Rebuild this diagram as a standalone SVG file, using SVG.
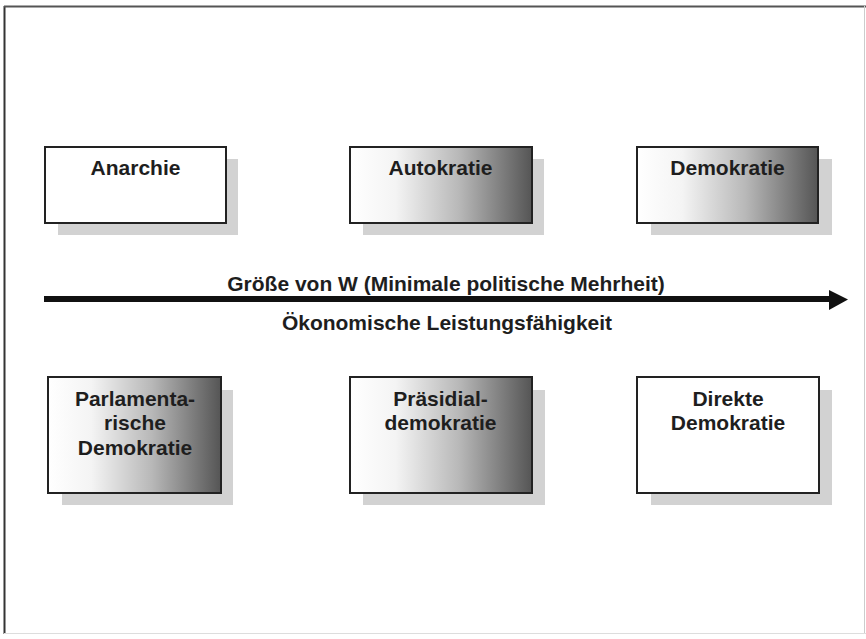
<svg xmlns="http://www.w3.org/2000/svg" width="866" height="639" viewBox="0 0 866 639">
<defs>
<linearGradient id="g" x1="0" y1="0" x2="1" y2="0">
<stop offset="0" stop-color="#ffffff"/>
<stop offset="0.25" stop-color="#f4f4f4"/>
<stop offset="0.6" stop-color="#b8b8b8"/>
<stop offset="1" stop-color="#555555"/>
</linearGradient>
<style>
.box{stroke:#222;stroke-width:2}
.w{fill:#fff}
.gr{fill:url(#g)}
.sh{fill:#d2d2d2}
.t{font-family:"Liberation Sans",Arial,sans-serif;font-weight:bold;font-size:21px;fill:#1e1e1e;text-anchor:middle}
.a{font-family:"Liberation Sans",Arial,sans-serif;font-weight:bold;font-size:21px;fill:#1e1e1e;text-anchor:middle}
</style>
</defs>
<rect x="0" y="0" width="866" height="639" fill="#fff"/>
<line x1="4.5" y1="6" x2="4.5" y2="634" stroke="#333" stroke-width="2"/>
<line x1="4" y1="6.5" x2="866" y2="6.5" stroke="#555" stroke-width="2"/>
<line x1="864.5" y1="6" x2="864.5" y2="634" stroke="#ccc" stroke-width="1"/>
<line x1="4" y1="633.5" x2="866" y2="633.5" stroke="#ddd" stroke-width="1"/>

<g id="anarchie">
<rect class="sh" x="58" y="159" width="180" height="76"/>
<rect class="box w" x="45" y="147" width="181" height="76"/>
<text class="t" x="135.5" y="175">Anarchie</text>
</g>
<g id="autokratie">
<rect class="sh" x="363" y="159" width="181" height="76"/>
<rect class="box gr" x="350" y="147" width="182" height="76"/>
<text class="t" x="440.5" y="175">Autokratie</text>
</g>
<g id="demokratie">
<rect class="sh" x="651" y="159" width="181" height="76"/>
<rect class="box gr" x="637" y="147" width="181" height="76"/>
<text class="t" x="727.5" y="175">Demokratie</text>
</g>

<g id="connectors">
<line x1="44" y1="299" x2="832" y2="299" stroke="#111" stroke-width="6"/>
<polygon points="829,290 848,299.5 829,310" fill="#111"/>
</g>
<text class="a" x="446" y="291">Größe von W (Minimale politische Mehrheit)</text>
<text class="a" x="447" y="330">Ökonomische Leistungsfähigkeit</text>

<g id="parlamentarische">
<rect class="sh" x="62" y="390" width="171" height="115"/>
<rect class="box gr" x="48" y="377" width="173" height="116"/>
<text class="t" x="135" y="406">Parlamenta-</text>
<text class="t" x="135" y="430">rische</text>
<text class="t" x="135" y="455">Demokratie</text>
</g>
<g id="praesidial">
<rect class="sh" x="363" y="390" width="182" height="115"/>
<rect class="box gr" x="350" y="377" width="182" height="116"/>
<text class="t" x="440.5" y="406">Präsidial-</text>
<text class="t" x="440.5" y="430">demokratie</text>
</g>
<g id="direkte">
<rect class="sh" x="651" y="390" width="181" height="115"/>
<rect class="box w" x="637" y="377" width="182" height="116"/>
<text class="t" x="728" y="406">Direkte</text>
<text class="t" x="728" y="430">Demokratie</text>
</g>
</svg>
